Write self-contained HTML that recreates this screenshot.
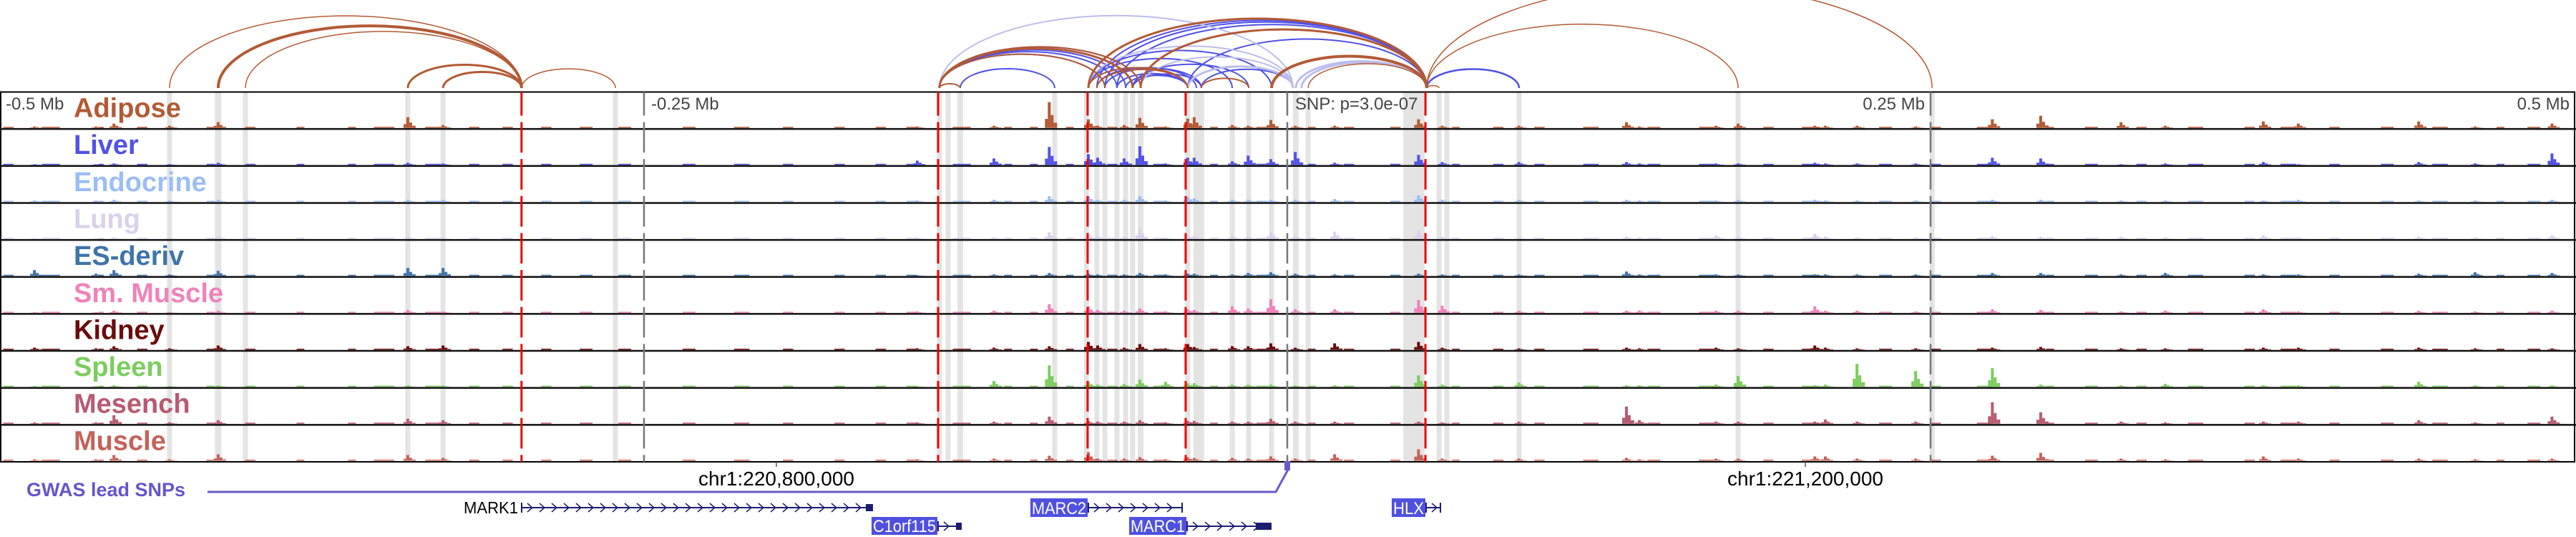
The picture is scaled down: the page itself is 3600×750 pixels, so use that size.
<!DOCTYPE html>
<html><head><meta charset="utf-8"><style>
html,body{margin:0;padding:0;background:#fff;}
svg{display:block;font-family:"Liberation Sans",sans-serif;}
</style></head><body>
<svg id="chart" width="3600" height="750" viewBox="0 0 3600 750" xmlns="http://www.w3.org/2000/svg">
<g id="stripes"></g>
<g id="signals"></g>
<g id="frame"></g>
<g id="vlines"></g>
<g id="arcs"></g>
<g id="labels"></g>
<g id="bottom"></g>
</svg>
<script>
// ---- data ----
const trackNames = ["Adipose","Liver","Endocrine","Lung","ES-deriv","Sm. Muscle","Kidney","Spleen","Mesench","Muscle"];
const trackColors = ["#b35a35","#5252e6","#9cbdf5","#d9d2ec","#3f74ab","#f082b9","#6b0b0b","#7ccd5e","#b85a72","#c4625a"];
const peakKb = [-486.9,-463,-456,-434.4,-415.5,-341.8,-328.1,-143.8,-114,-92.5,-77.3,-73.7,-63.4,-57.3,-47.3,-38.7,-36.2,-21.4,-15.2,-6.4,3.1,18.4,51,60.2,90,131.8,136.8,166.6,175.2,205,209.1,221.4,244.2,274,292.8,324,341.2,379.3,392.9,439.7,461.6,491.5];
const adiposeVals  = [2,2,6,3,8,15,4,2,3,36,12,3,4,14,2,13,15,4,3,11,3,3,12,3,3,8,2,3,6,3,3,3,2,12,17,8,3,9,6,9,2,6];
const liverVals    = [1,1,2,1,3,3,2,6,9,25,15,10,9,26,2,10,10,5,13,8,18,3,14,4,4,4,2,2,2,3,2,2,2,10,9,1,2,4,1,4,2,16];
const endocrineVals= [2,2,3,2,3,3,3,2,3,8,8,3,3,8,2,7,5,3,3,3,3,4,9,3,3,3,2,2,3,3,2,2,2,3,3,2,2,2,3,2,2,3];
const lungVals     = [1,1,2,1,4,3,2,2,2,9,6,4,3,14,2,5,4,4,3,10,4,10,12,3,2,3,2,5,3,7,3,2,2,4,3,3,2,5,2,3,2,5];
const esVals       = [8,3,8,2,7,11,11,1,2,4,3,2,2,4,2,3,3,2,4,5,3,2,3,2,2,6,2,2,2,2,2,2,2,4,4,2,4,2,2,3,5,4];
const smMuscleVals = [1,1,3,1,3,4,2,2,3,12,9,4,3,6,2,5,4,9,6,19,5,5,18,10,3,3,3,3,3,9,3,3,2,5,4,2,3,5,2,3,2,3];
const kidneyVals   = [3,2,5,2,6,5,6,2,3,5,11,6,3,8,2,8,4,5,5,9,3,9,11,3,2,3,2,3,2,6,3,2,2,3,4,2,2,3,3,3,2,2];
const spleenVals   = [1,1,2,1,2,2,2,1,8,30,7,3,4,10,7,5,5,3,3,3,2,2,16,3,6,2,2,3,15,2,3,32,22,26,3,2,4,2,2,7,2,2];
const mesenchVals  = [2,2,12,2,5,7,5,2,3,10,4,3,3,5,2,4,4,3,3,7,3,3,3,2,3,24,5,3,3,3,6,3,3,30,16,3,2,3,3,5,2,10];
const muscleVals   = [2,2,8,2,9,8,4,2,3,7,12,3,3,5,2,5,4,4,3,6,3,9,16,3,3,4,2,3,3,6,6,3,3,7,11,3,2,6,3,3,2,3];
const noiseStart = [-499,-484,-462,-447,-420,-405,-385,-365,-355,-335,-318,-305,-290,-275,-260,-235,-215,-196,-176,-160,-148,-130,-110,-100,-86,-70,-52,-30,-12,8,22,40,64,80,96,115,140,160,185,200,230,250,268,295,310,330,350,372,386,405,425,445,470,482];
const noiseEnd   = [-495,-477,-460,-443,-417,-401,-382,-362,-347,-329,-314,-301,-286,-270,-255,-230,-209,-192,-172,-156,-144,-123,-107,-97,-83,-66,-47,-27,-8,11,26,44,67,84,100,121,145,166,189,207,235,254,274,298,315,334,356,376,392,409,430,451,473,487];
const stripeKb = [-434.4,-415.5,-404.9,-341.8,-328.1,-261.1,-135.2,-131.8,-127.1,-90.4,-78.1,-74.0,-70.9,-66.2,-62.8,-60.1,-57.0,-38.7,-35.3,-33.4,-21.4,-15.0,-6.1,3.3,8.1,49.2,59.0,62.0,90.1,175.2,250.6];
const stripeW  = [7,9,7,7,7,7,7,7,8,7,7,7,7,7,7,7,8,7,8,8,7,7,7,8,7,30,7,7,7,7,7];
const redLineKb = [-297.6,-135.7,-77.6,-39.5,53.7];
const scaleLineKb = [-250,0,250];
const arcStart = [-434.4,-415.5,-404.9,-341.8,-328.1,-297.6,-135.2,-135.2,-135.2,-135.2,-77.3,-77.3,-74,-57,-6.1,8.1,-33.4,54.2,54.2,54.2,
  -127.1,-135.2,-135.2,-135.2,-77.3,-74,-70.9,-66.2,-77.3,-74,-70.9,-66.2,-62.8,-60.1,-38.7,-38.7,-33.4,-77.3,-60.1,54.2,-77.3,-135.2,
  -135.2,-135.2,-77.3,-38.7,3.3,5.5,-57];
const arcEnd = [-297.6,-297.6,-297.6,-297.6,-297.6,-261.1,-127.1,-60.1,-57,-70.9,54.2,-38.7,-38.7,54.2,54.2,54.2,-15,175.2,250.6,59,
  -90.4,-62.8,-66.2,-57,54.2,54.2,54.2,54.2,-38.7,-35.3,-33.4,-38.7,-38.7,-33.4,54.2,2.2,2.2,-21.4,-15,90.1,-6.1,-70.9,
  2.2,-60.1,2.2,2.2,54.2,54.2,2.2];
const arcKind = [0,0,0,0,0,0,0,0,0,0,0,0,0,0,0,0,0,0,0,0,
  1,1,1,1,1,1,1,1,1,1,1,1,1,1,1,1,1,1,1,1,1,1,
  2,2,2,2,2,2,2];
const arcWidthVals = [1.5,4,1.5,3,3,1.5,2,3,2,2,3,2,2,3,4,1.5,2,1.5,1.5,1.5,
  2,2,2,2,2.5,2,2,2,2,2,2,2,2,2,2,2,2,2,2,2.5,2,2,
  2,2,2,3,3,3,2];
const genes = ["MARK1","C1orf115","MARC2","MARC1","HLX"];

// ---- scales ----
const NS="http://www.w3.org/2000/svg";
const X0=1799, PXKB=3.596;
const xs = kb => X0 + kb*PXKB;
const TOP=128.5, TH=51.65, NT=10, BOT=TOP+TH*NT;
const ARCBASE=123, ARCK=0.205;
function mk(tag, attrs, parent){const e=document.createElementNS(NS,tag);for(const k in attrs)e.setAttribute(k,attrs[k]);parent.appendChild(e);return e;}
const gS=document.getElementById('stripes'), gSig=document.getElementById('signals'), gF=document.getElementById('frame'),
      gV=document.getElementById('vlines'), gA=document.getElementById('arcs'), gL=document.getElementById('labels'), gB=document.getElementById('bottom');

stripeKb.forEach((kb,i)=>{
  const r=mk('rect',{x:xs(kb)-stripeW[i]/2,y:TOP,width:stripeW[i],height:BOT-TOP,fill:'#e4e4e4'},gS);
  
  
});

const allVals=[adiposeVals,liverVals,endocrineVals,lungVals,esVals,smMuscleVals,kidneyVals,spleenVals,mesenchVals,muscleVals];
allVals.forEach((vals,t)=>{
  const base=TOP+TH*(t+1)-1.5, col=trackColors[t];
  const g=mk('g',{fill:col},gSig);
  
  
  noiseStart.forEach((s,i)=>{
    mk('rect',{x:xs(s),y:base-1.5,width:xs(noiseEnd[i])-xs(s),height:1.5},g);
  });
  peakKb.forEach((kb,i)=>{
    const h=vals[i], cx=xs(kb);
    const b=mk('rect',{x:cx-2,y:base-h,width:4,height:h},g);
    
    
    mk('rect',{x:cx-6,y:base-h*0.35,width:4,height:h*0.35},g);
    mk('rect',{x:cx+2,y:base-h*0.5,width:4,height:h*0.5},g);
    mk('rect',{x:cx+6,y:base-h*0.2,width:5,height:h*0.2},g);
  });
});

mk('rect',{x:1,y:TOP,width:3597,height:BOT-TOP,fill:'none',stroke:'#000','stroke-width':2},gF);
for(let t=1;t<NT;t++){mk('line',{x1:0,x2:3600,y1:TOP+TH*t,y2:TOP+TH*t,stroke:'#111','stroke-width':2.5},gF);}

scaleLineKb.forEach(kb=>{
  const l=mk('line',{x1:xs(kb),x2:xs(kb),y1:TOP,y2:BOT,stroke:'#777','stroke-width':2.5,'stroke-dasharray':'42.65 9','stroke-dashoffset':9.65},gV);
  
  
});
redLineKb.forEach(kb=>{
  const l=mk('line',{x1:xs(kb),x2:xs(kb),y1:TOP,y2:BOT,stroke:'#ee0000','stroke-width':3,'stroke-dasharray':'42.65 9','stroke-dashoffset':9.65},gV);
  
  
});

const arcCols=['#b35a35','#5050e6','#bdbdec'];
const order=arcKind.map((k,i)=>i).sort((a,b)=>(arcKind[a]===0?1:0)-(arcKind[b]===0?1:0));
order.forEach(i=>{
  const a=xs(arcStart[i]), b=xs(arcEnd[i]), rx=(b-a)/2, ry=ARCK*(b-a);
  const p=mk('path',{d:`M${a},${ARCBASE} A${rx},${ry} 0 0 1 ${b},${ARCBASE}`,fill:'none',stroke:arcCols[arcKind[i]],'stroke-width':arcWidthVals[i]},gA);
  
  
});

trackNames.forEach((n,t)=>{
  const tx=mk('text',{x:103,y:TOP+TH*t+35,fill:trackColors[t],'font-size':38,'font-weight':'bold'},gL);
  tx.textContent=n;
  
  
});
const scaleText=[["-0.5 Mb",8,'start'],["-0.25 Mb",910,'start'],["0.25 Mb",2690,'end'],["0.5 Mb",3591,'end'],["SNP: p=3.0e-07",1810,'start']];
scaleText.forEach(s=>{
  const tx=mk('text',{x:s[1],y:153,fill:'#444','font-size':24,'text-anchor':s[2]},gL);
  tx.textContent=s[0];
  
  
});

[[1085,"chr1:220,800,000"],[2523,"chr1:221,200,000"]].forEach(c=>{
  mk('line',{x1:c[0],x2:c[0],y1:BOT,y2:652,stroke:'#555','stroke-width':1.5},gB);
  const tx=mk('text',{x:c[0],y:678,'font-size':28,'text-anchor':'middle',fill:'#000'},gB);
  tx.textContent=c[1];
  
  
});
const gw=mk('text',{x:37,y:693,'font-size':27,'font-weight':'bold',fill:'#6655cc'},gB);
gw.textContent="GWAS lead SNPs";


mk('polyline',{points:`290,687 1783,687 ${xs(0)+1},656`,fill:'none',stroke:'#6a5acd','stroke-width':3},gB);
const snp=mk('rect',{x:xs(0)-4,y:644,width:8,height:13,fill:'#6a5acd'},gB);



const NAVY='#1c1c70';
function geneLine(x1,x2,y,endBox){
  mk('line',{x1:x1,x2:x2,y1:y,y2:y,stroke:NAVY,'stroke-width':2},gB);
  mk('line',{x1:x1,x2:x1,y1:y-7,y2:y+7,stroke:NAVY,'stroke-width':2},gB);
  for(let x=x1+8;x<x2-10;x+=17){mk('polyline',{points:`${x},${y-6} ${x+7},${y} ${x},${y+6}`,fill:'none',stroke:NAVY,'stroke-width':1.5},gB);}
  if(endBox) mk('rect',{x:x2-endBox,y:y-5,width:endBox,height:10,fill:NAVY},gB); else mk('line',{x1:x2,x2:x2,y1:y-7,y2:y+7,stroke:NAVY,'stroke-width':2},gB);
}
function geneBox(x,y,w,h,label){
  const g=mk('g',{},gB);
  
  
  mk('rect',{x:x,y:y,width:w,height:h,fill:'#5050e0'},g);
  const t=mk('text',{x:x+2,y:y+h-4,'font-size':24,fill:'#fff',textLength:w-4,lengthAdjust:'spacingAndGlyphs'},g);
  t.textContent=label;
}
const mt=mk('text',{x:648,y:717,'font-size':23,fill:'#000',textLength:76,lengthAdjust:'spacingAndGlyphs'},gB);
mt.textContent=genes[0];


geneLine(729,1220,709,10);
geneBox(1218,722,92,25,genes[1]); geneLine(1311,1344,735,8);
geneBox(1440,696,80,26,genes[2]); geneLine(1521,1652,709,0);
geneBox(1578,722,80,25,genes[3]); geneLine(1659,1777,735,22);
geneBox(1945,696,47,26,genes[4]); geneLine(1993,2013,709,0);
</script>
</body></html>
